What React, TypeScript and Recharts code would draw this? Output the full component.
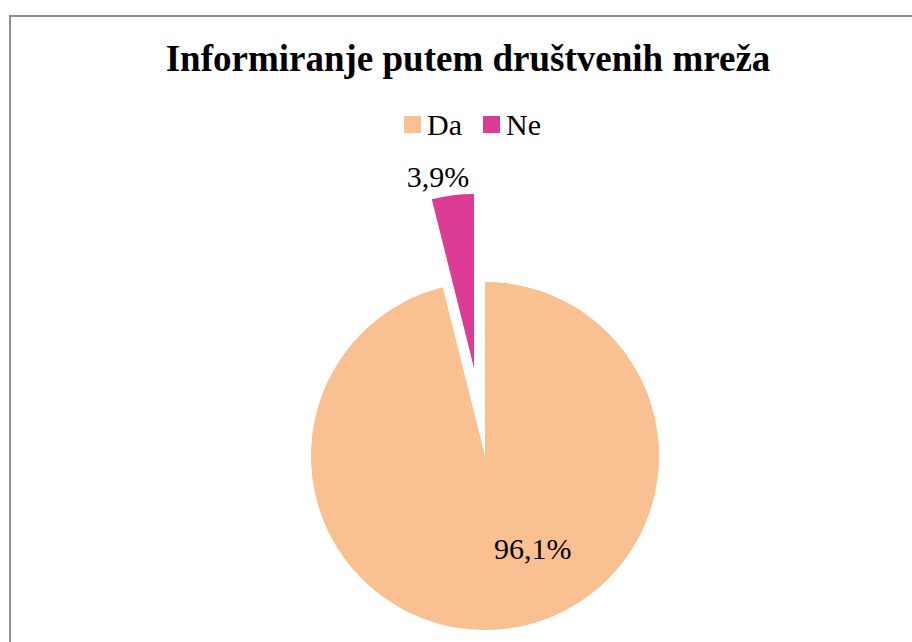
import React from "react";
import { PieChart, Pie, Cell } from "recharts";

const categories = ["Da", "Ne"];
const values = [96.1, 3.9];
const valueLabels = ["96,1%", "3,9%"];
const colors = ["#F9C192", "#DC3C96"];
const titleText = "Informiranje putem društvenih mreža";

const data = categories.map((name, i) => ({ name, value: values[i], label: valueLabels[i] }));

const FONT = "Liberation Serif, Times New Roman, serif";
const textStyle = { fontFamily: FONT, fontSize: 30, fontWeight: 400 } as const;

const daLabel = (p: any) => {
  if (p.index !== 0) return null;
  return (
    <text x={p.cx + p.outerRadius * 0.275} y={p.cy + p.outerRadius * 0.593} textAnchor="middle" style={textStyle} fill="#000">
      {p.payload.label}
    </text>
  );
};

const neLabel = (p: any) => {
  if (p.index !== 1) return null;
  return (
    <text x={p.cx - 36} y={p.cy - p.outerRadius - 7} textAnchor="middle" style={textStyle} fill="#000">
      {p.payload.label}
    </text>
  );
};

export default function App() {
  return (
    <div style={{ position: "fixed", left: 0, top: 0, width: 912, height: 642, overflow: "hidden", background: "#fff", fontFamily: FONT }}>
      <div style={{ position: "absolute", left: 9, top: 15, width: 1000, height: 800, border: "2px solid #8e8e8e", boxSizing: "border-box" }} />
      <div style={{ position: "absolute", left: 0, top: 0 }}>
        <PieChart width={912} height={642} margin={{ top: 0, right: 0, bottom: 0, left: 0 }} style={{ fontFamily: FONT }}>
          <text x={468} y={71} textAnchor="middle" style={{ fontFamily: FONT, fontWeight: 700, fontSize: 37 }} fill="#000">
            {titleText}
          </text>
          <g>
            {data.map((d, i) => {
              const x0 = i === 0 ? 404 : 483;
              return (
                <g key={d.name}>
                  <rect x={x0} y={116} width={17} height={17} fill={colors[i]} />
                  <text x={x0 + 23} y={135} style={textStyle} fill="#000">
                    {d.name}
                  </text>
                </g>
              );
            })}
          </g>
          <Pie
            data={data}
            dataKey="value"
            nameKey="name"
            cx={485}
            cy={456}
            outerRadius={174}
            startAngle={90}
            endAngle={-270}
            stroke="none"
            isAnimationActive={false}
            label={daLabel}
            labelLine={false}
          >
            {data.map((d, i) => (
              <Cell key={d.name} fill={i === 0 ? colors[0] : "transparent"} />
            ))}
          </Pie>
          <Pie
            data={data}
            dataKey="value"
            nameKey="name"
            cx={474}
            cy={368}
            outerRadius={174}
            startAngle={90}
            endAngle={-270}
            stroke="none"
            isAnimationActive={false}
            label={neLabel}
            labelLine={false}
          >
            {data.map((d, i) => (
              <Cell key={d.name} fill={i === 1 ? colors[1] : "transparent"} />
            ))}
          </Pie>
        </PieChart>
      </div>
    </div>
  );
}
